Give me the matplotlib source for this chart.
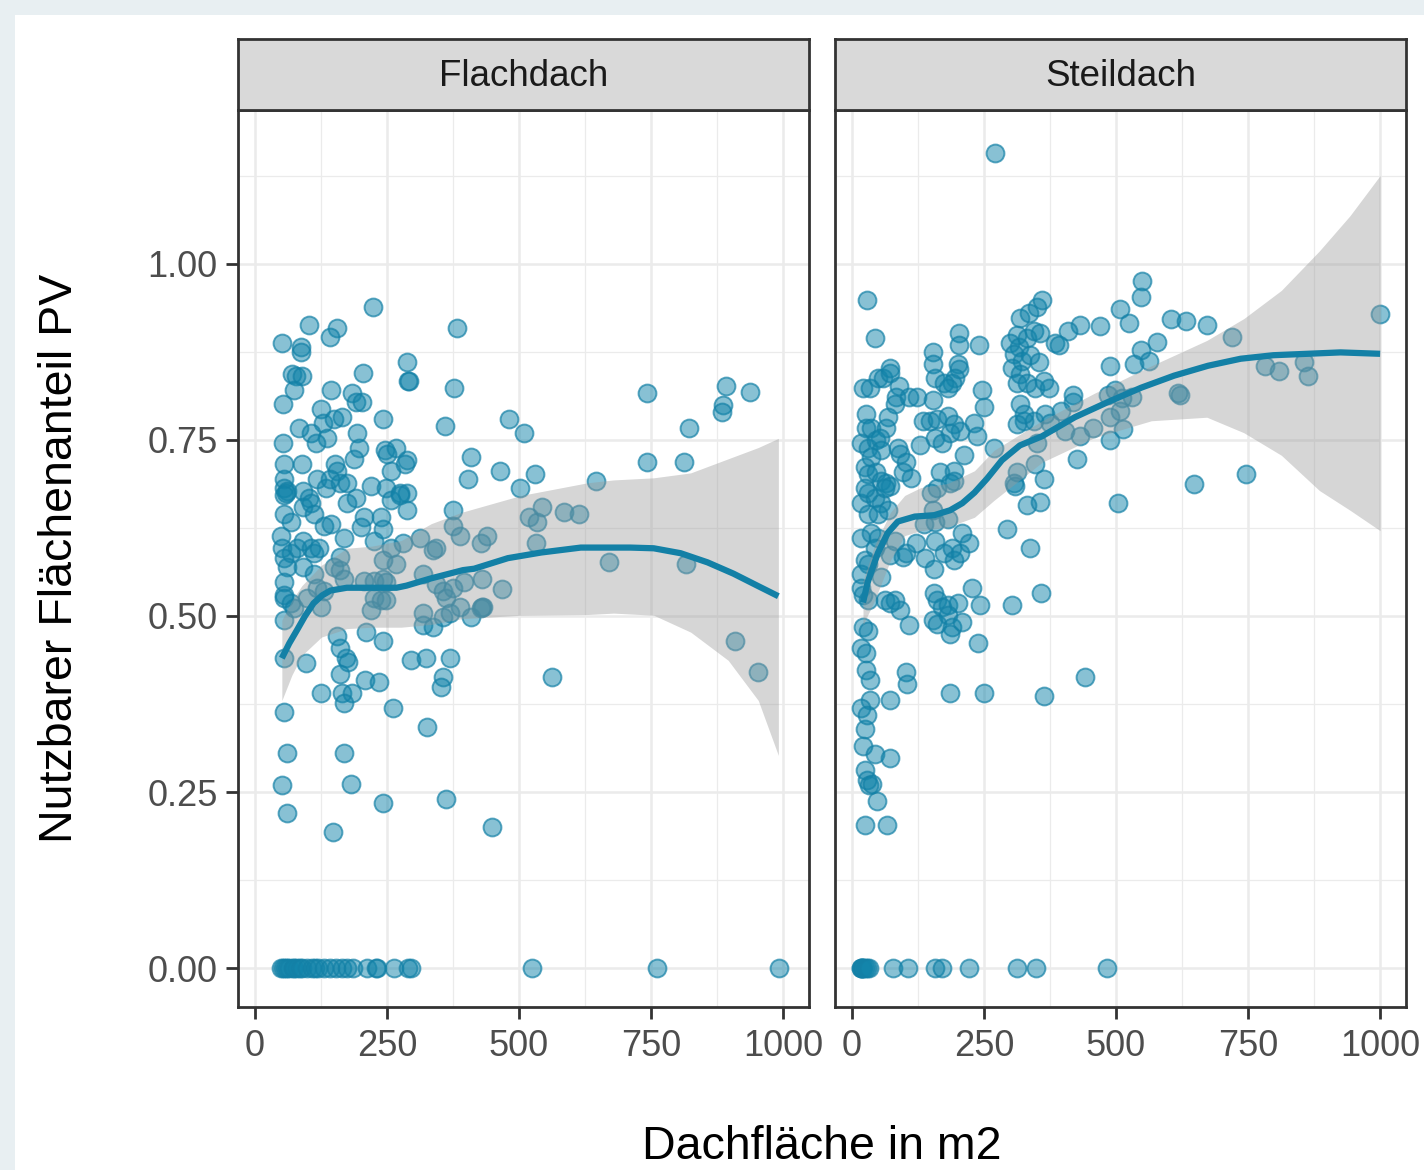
import matplotlib.pyplot as plt
from matplotlib.patches import Rectangle

plt.rcParams['font.family'] = ['Liberation Sans', 'DejaVu Sans']

# facet names and axis text
facets = ["Flachdach", "Steildach"]
x_ticks = [0, 250, 500, 750, 1000]
x_tick_labels = ["0", "250", "500", "750", "1000"]
y_ticks = [0, 0.25, 0.5, 0.75, 1.0]
y_tick_labels = ["0.00", "0.25", "0.50", "0.75", "1.00"]

# Flachdach points (Dachfläche in m2, nutzbarer Anteil)
flach_x = [223, 102, 155, 142, 51, 87, 87, 383, 287, 289, 291, 204, 70, 77, 89, 74, 145, 183, 191, 202,
           53, 377, 126, 128, 149, 164, 243, 83, 106, 136, 115, 194, 360, 53, 198, 187, 247, 268, 251, 287,
           285, 257, 55, 89, 151, 155, 55, 55, 60, 58, 117, 134, 143, 162, 174, 219, 249, 275, 287, 92, 102,
           55, 55, 68, 49, 51, 68, 79, 92, 106, 111, 121, 92, 106, 111, 130, 145, 168, 192, 174, 206,
           200, 225, 238, 243, 257, 275, 287, 313, 281, 257, 268, 243, 338, 343, 375, 375, 389,
           55, 60, 92, 111, 162, 149, 162, 55, 55, 55, 68, 74, 55, 98, 117, 130, 125,
           168, 206, 225, 243, 249, 225, 238, 249, 219, 319, 343, 357, 362, 375, 319, 319, 338, 357, 370, 389,
           155, 162, 172, 177, 162, 126, 164, 183, 168, 209, 234, 211, 243, 55, 96, 296, 323, 370, 357, 353,
           55, 262,
           60, 51, 60, 168, 181, 243, 147, 362, 449, 562, 908, 953, 326, 409, 430,
           481, 509, 409, 404, 464, 530, 502, 645, 743, 742, 813, 821, 891, 938, 887, 885,
           428, 440, 519, 534, 543, 585, 613, 532, 670, 817, 396, 430, 468, 432, 428]
flach_y = [.939, .913, .908, .896, .887, .882, .874, .908, .861, .834, .833, .845, .843, .841, .840, .820, .820, .817, .804, .803,
           .801, .823, .793, .774, .779, .782, .780, .767, .760, .752, .745, .760, .769, .746, .738, .723, .736, .739, .730, .721,
           .716, .706, .715, .715, .716, .706, .695, .681, .678, .675, .695, .681, .695, .689, .688, .685, .682, .675, .675, .678, .668,
           .671, .645, .633, .614, .596, .590, .596, .607, .597, .589, .596, .654, .660, .645, .628, .631, .611, .667, .660, .640,
           .626, .607, .640, .624, .664, .671, .650, .611, .603, .596, .574, .579, .593, .597, .650, .628, .614,
           .582, .569, .569, .560, .583, .569, .565, .548, .529, .525, .519, .511, .494, .526, .539, .536, .512,
           .553, .550, .550, .553, .548, .526, .522, .522, .508, .560, .546, .536, .526, .540, .504, .487, .484, .498, .504, .512,
           .472, .454, .440, .434, .418, .390, .391, .391, .376, .409, .406, .477, .465, .441, .433, .437, .441, .440, .413, .399,
           .363, .369,
           .306, .260, .220, .306, .261, .234, .194, .240, .201, .414, .465, .421, .342, .498, .512,
           .780, .759, .725, .694, .705, .702, .682, .692, .816, .719, .718, .766, .826, .818, .799, .790,
           .603, .614, .641, .633, .655, .647, .645, .603, .576, .574, .548, .552, .538, .513, .511]
# Flachdach roofs with a share of 0
flach_zero_x = [49, 53, 57, 60, 64, 72, 74, 79, 85, 89, 98, 108, 113, 119, 130, 142, 153, 164, 174, 185,
                213, 230, 232, 264, 289, 296, 525, 761, 993]

# Steildach points
steil_x = [28, 43, 203, 203, 241, 154, 153, 200, 203, 196, 190, 158, 175, 181, 21, 34, 49, 58, 72, 72,
           90, 83, 81, 109, 124, 154, 247, 250, 26, 68, 64, 134, 147, 162, 181, 194, 205, 186, 158, 171, 232, 237,
           26, 36, 17, 30, 45, 53, 55, 36, 24, 30, 45, 55, 64, 73, 87, 92, 102, 111, 96, 128, 166, 194, 213, 194, 269,
           318, 335, 350, 360, 313, 299, 316, 331, 345, 356, 307, 322, 337, 354, 303, 318, 313, 331, 346, 363,
           318, 345, 326, 313, 346, 313, 307,
           17, 30, 43, 55, 68, 30, 49, 24, 62, 149, 162, 186, 153, 137, 158, 181, 17, 36, 49, 43, 24, 30,
           81, 73, 96, 102, 121, 139, 156, 158, 175, 190, 194, 205, 209, 222,
           17, 17, 21, 30, 55, 62, 81, 92, 109, 73, 156, 162, 171, 181, 200, 153, 162, 181, 190, 186, 209,
           228, 243, 239, 294, 337, 331, 356, 309, 303, 358, 21, 30, 17, 26, 26, 34, 102, 105,
           186, 250, 363, 34, 73, 17,
           24, 66, 47, 24, 28, 32, 38, 21, 43, 72, 24, 28, 441,
           271, 550, 548, 507, 525, 469, 431, 410, 604, 633, 672, 719, 1000, 578, 548, 563, 535, 488, 783, 808,
           855, 864, 618, 621, 418, 418, 484, 499, 512, 531, 365, 395, 403, 326, 375, 431, 456, 488, 514, 508,
           488, 427, 350, 363, 648, 746, 503, 384, 392, 373]
steil_y = [.948, .895, .902, .885, .884, .874, .858, .858, .851, .838, .830, .837, .831, .824, .824, .823, .837, .838, .852, .845,
           .826, .810, .801, .810, .810, .807, .820, .796, .787, .782, .767, .777, .777, .780, .784, .773, .763, .759, .753, .745, .774, .756,
           .767, .766, .745, .739, .749, .753, .735, .725, .711, .702, .704, .692, .688, .685, .739, .730, .718, .696, .704, .742, .704, .706, .728, .692, .739,
           .923, .930, .938, .948, .898, .887, .881, .894, .905, .901, .872, .862, .870, .860, .852, .844, .830, .831, .824, .834,
           .801, .777, .777, .773, .716, .704, .689,
           .660, .674, .668, .660, .650, .645, .645, .682, .682, .674, .681, .688, .650, .631, .633, .638, .610, .617, .610, .597, .579, .574,
           .607, .586, .583, .590, .603, .582, .567, .607, .589, .596, .579, .590, .617, .603,
           .560, .540, .529, .522, .555, .522, .522, .508, .487, .518, .532, .522, .512, .515, .518, .494, .489, .501, .484, .475, .491,
           .540, .516, .461, .623, .597, .657, .661, .685, .515, .532, .484, .479, .454, .447, .423, .409, .420, .404,
           .391, .390, .387, .380, .380, .369,
           .203, .203, .238, .281, .267, .260, .262, .316, .304, .299, .340, .359, .414,
           1.157, .976, .952, .935, .916, .912, .913, .904, .922, .919, .913, .896, .929, .889, .877, .862, .858, .855, .854, .847,
           .861, .840, .816, .813, .814, .804, .814, .820, .809, .810, .787, .791, .762, .787, .774, .755, .766, .749, .765, .791,
           .782, .722, .745, .695, .687, .702, .660, .888, .884, .823]
steil_zero_x = [17, 18, 19, 20, 21, 24, 28, 32, 77, 107, 158, 171, 222, 313, 348, 482]

# loess trend with confidence band
flach_fit_x = [51, 65, 79, 95, 111, 127, 143, 174, 221, 268, 287, 332, 394, 415, 479, 542, 617, 711, 755, 806, 857, 906, 951, 991]
flach_fit_y = [.440, .461, .479, .500, .518, .529, .536, .540, .540, .540, .543, .553, .565, .567, .582, .590, .597, .597, .596, .589, .576, .560, .543, .528]
flach_band_x = [51, 70, 89, 126, 174, 221, 277, 334, 391, 504, 630, 679, 755, 825, 896, 953, 991]
flach_band_hi = [.494, .522, .543, .572, .596, .599, .607, .631, .647, .671, .689, .693, .696, .703, .723, .739, .752]
flach_band_lo = [.380, .416, .444, .470, .482, .484, .484, .488, .496, .501, .502, .504, .501, .477, .437, .380, .302]

steil_fit_x = [21, 30, 49, 68, 87, 119, 156, 186, 209, 232, 256, 284, 318, 360, 422, 486, 548, 610, 674, 736, 798, 862, 925, 1000]
steil_fit_y = [.519, .548, .589, .618, .634, .641, .643, .650, .660, .675, .695, .721, .742, .755, .782, .804, .824, .841, .855, .865, .870, .872, .874, .872]
steil_band_x = [21, 43, 73, 100, 130, 181, 232, 269, 360, 459, 567, 672, 742, 813, 885, 943, 1000]
steil_band_hi = [.550, .600, .647, .671, .682, .688, .706, .735, .777, .816, .855, .891, .922, .962, 1.018, 1.068, 1.125]
steil_band_lo = [.487, .522, .579, .614, .621, .626, .640, .664, .718, .753, .777, .782, .760, .728, .678, .650, .621]

blue = '#1380a6'
W, H = 1424, 1170

fig = plt.figure(figsize=(W / 100, H / 100), dpi=100)
fig.patch.set_facecolor('#e8eff2')
fig.add_artist(Rectangle((15 / W, 0), 1, 1 - 15 / H, transform=fig.transFigure,
                         facecolor='white', edgecolor='none', zorder=0))

panels = [
    (238, flach_x, flach_y, flach_zero_x, flach_fit_x, flach_fit_y, flach_band_x, flach_band_lo, flach_band_hi),
    (835, steil_x, steil_y, steil_zero_x, steil_fit_x, steil_fit_y, steil_band_x, steil_band_lo, steil_band_hi),
]

for i, (left, px, py, zx, fx, fy, bx, blo, bhi) in enumerate(panels):
    ax = fig.add_axes([left / W, (H - 1007) / H, 571 / W, 897 / H])
    ax.set_facecolor('white')

    allx = px + zx
    ally = py + [0] * len(zx)
    ax.scatter(allx, ally, s=165, facecolor=(0.075, 0.52, 0.67, 0.5),
               edgecolor=(0.075, 0.5, 0.65, 0.7), linewidth=1.4, zorder=2)
    ax.fill_between(bx, blo, bhi, color='#999999', alpha=0.4, linewidth=0, zorder=3)
    ax.plot(fx, fy, color=blue, lw=4.5, solid_capstyle='butt', solid_joinstyle='round', zorder=4)

    ax.set_xlim(-32, 1049)
    ax.set_ylim(-0.055, 1.218)
    ax.set_xticks(x_ticks)
    ax.set_xticklabels(x_tick_labels)
    ax.set_xticks([125, 375, 625, 875], minor=True)
    ax.set_yticks(y_ticks)
    ax.set_yticklabels(y_tick_labels)
    ax.set_yticks([0.125, 0.375, 0.625, 0.875, 1.125], minor=True)
    ax.grid(which='major', color='#ebebeb', lw=1.8)
    ax.grid(which='minor', color='#ebebeb', lw=0.9)
    ax.set_axisbelow(True)
    ax.tick_params(which='minor', length=0)
    ax.tick_params(which='major', length=8.5, width=2, color='#333333',
                   labelsize=26, labelcolor='#4d4d4d')
    ax.tick_params(axis='x', pad=7)
    ax.tick_params(axis='y', pad=6)
    if i == 1:
        ax.tick_params(axis='y', length=0, labelleft=False)
    for sp in ax.spines.values():
        sp.set_color('#333333')
        sp.set_linewidth(2)

    # facet strip
    st = fig.add_axes([left / W, (H - 110) / H, 571 / W, 71 / H])
    st.set_facecolor('#d9d9d9')
    st.set_xticks([])
    st.set_yticks([])
    for sp in st.spines.values():
        sp.set_color('#333333')
        sp.set_linewidth(2)
    st.text(0.5, 0.47, facets[i], ha='center', va='center', fontsize=26.5,
            color='#1a1a1a', transform=st.transAxes)

fig.text(822 / W, 1 - 1159 / H, "Dachfläche in m2", ha='center', va='baseline',
         fontsize=33.5, color='black')
fig.text(60 / W, 1 - 558 / H, "Nutzbarer Flächenanteil PV", ha='center', va='center',
         rotation=90, fontsize=33.5, color='black')

fig.savefig('out.png', dpi=100)
